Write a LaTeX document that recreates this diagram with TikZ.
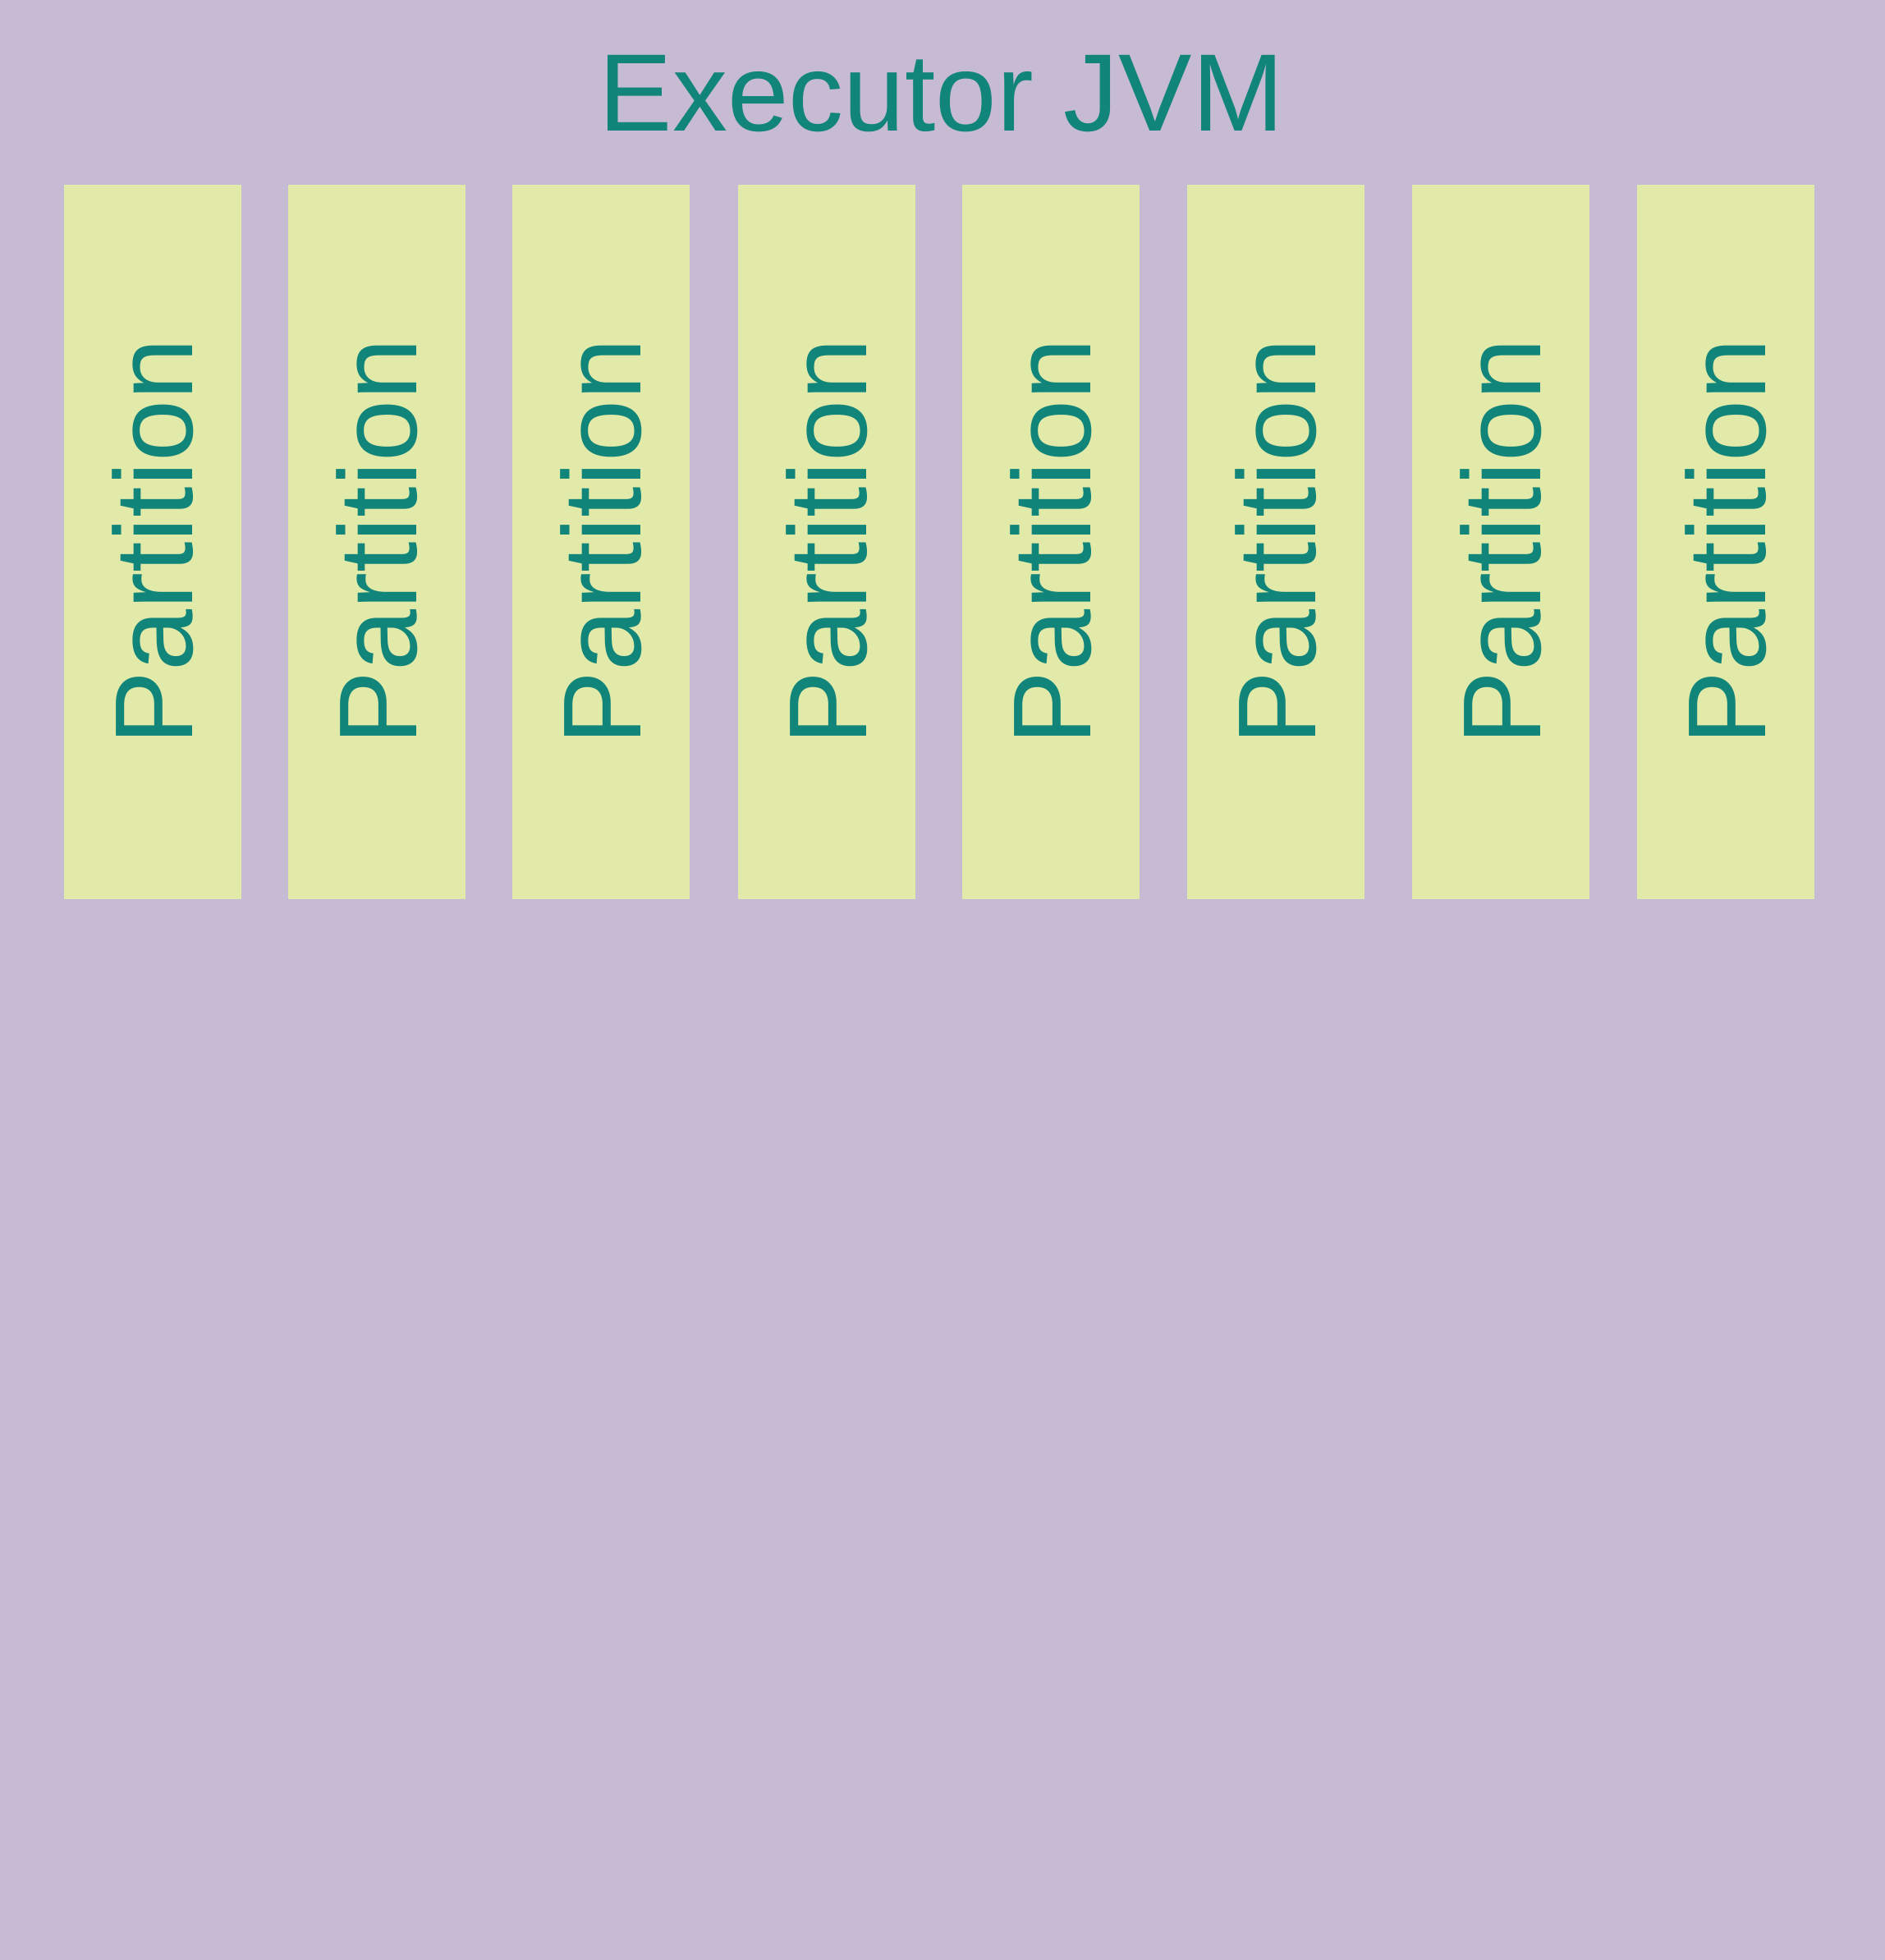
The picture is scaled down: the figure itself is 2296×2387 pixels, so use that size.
\documentclass[tikz,border=0pt]{standalone}
\usepackage{fontspec}
\setmainfont{Liberation Sans}
\definecolor{jvmbg}{HTML}{C7BAD3}
\definecolor{partfill}{HTML}{E2EAAA}
\definecolor{tealtext}{HTML}{12857A}
\begin{document}
\begin{tikzpicture}[x=1pt,y=-1pt,
  partbox/.style={fill=partfill, draw=none, minimum width=216pt, minimum height=870pt,
    inner sep=0pt, anchor=north west},
  partlabel/.style={text=tealtext, rotate=90, font=\fontsize{135}{140}\selectfont, inner sep=0pt}]
  % executor background
  \fill[jvmbg] (0,0) rectangle (2296,2387);
  \useasboundingbox (0,0) rectangle (2296,2387);
  \node[text=tealtext, font=\fontsize{134}{140}\selectfont, anchor=base, inner sep=0pt]
    (title) at (1147,160) {Executor JVM};
  % partitions
  \foreach \i/\x in {1/78, 2/351, 3/624, 4/899, 5/1172, 6/1446, 7/1720, 8/1994} {
    \node[partbox] (p\i) at (\x,225) {};
    \node[partlabel] (l\i) at (p\i.center) {Partition};
  }
\end{tikzpicture}
\end{document}
